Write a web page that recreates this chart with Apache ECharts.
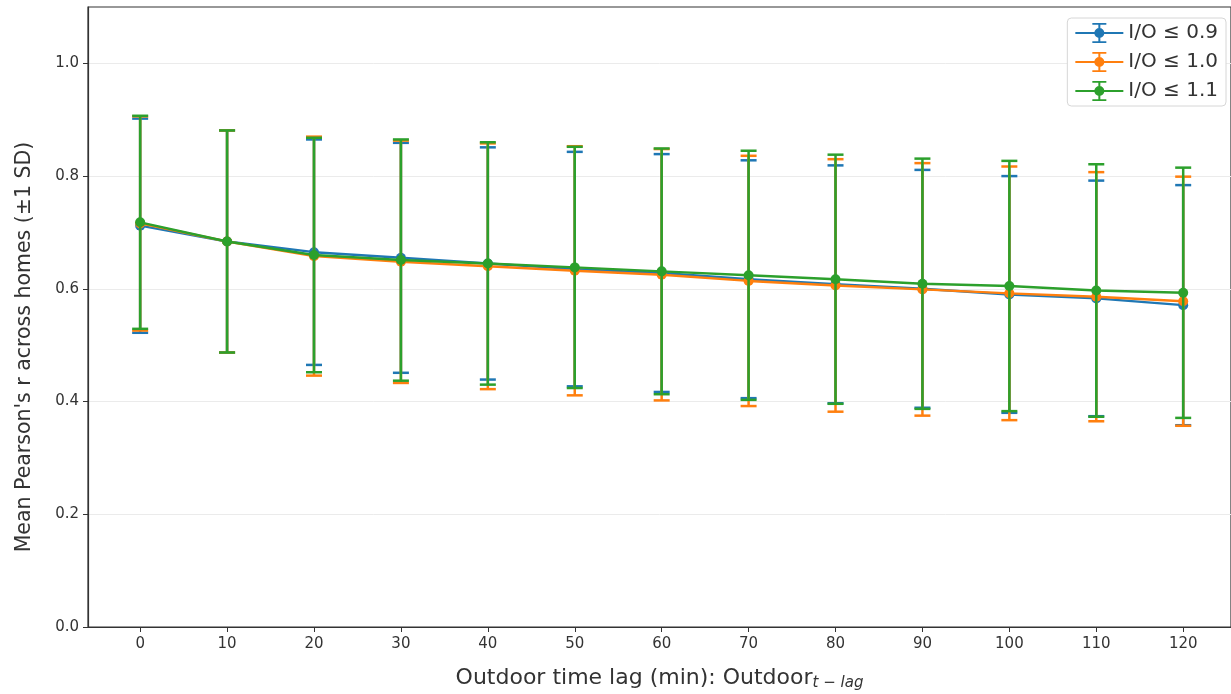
<!DOCTYPE html>
<html>
<head>
<meta charset="utf-8">
<script src="https://cdn.jsdelivr.net/npm/echarts@6/dist/echarts.min.js"></script>
<style>
html, body { margin: 0; padding: 0; background: #fff; }
#main { width: 1231px; height: 694px; }
</style>
</head>
<body>
<div id="main"></div>
<script>
// lag in minutes
var lags = [0, 10, 20, 30, 40, 50, 60, 70, 80, 90, 100, 110, 120];
var seriesNames = ['I/O ≤ 0.9', 'I/O ≤ 1.0', 'I/O ≤ 1.1'];
var colors = ['#1f77b4', '#ff7f0e', '#2ca02c'];

// mean r
var mean09 = [0.712, 0.684, 0.665, 0.655, 0.645, 0.635, 0.628, 0.617, 0.608, 0.600, 0.590, 0.583, 0.571];
var mean10 = [0.716, 0.684, 0.658, 0.648, 0.640, 0.632, 0.625, 0.614, 0.606, 0.599, 0.592, 0.586, 0.578];
var mean11 = [0.718, 0.684, 0.660, 0.651, 0.645, 0.638, 0.631, 0.624, 0.617, 0.609, 0.605, 0.597, 0.593];

// +/- 1 SD
var sd09 = [0.190, 0.197, 0.200, 0.204, 0.206, 0.208, 0.211, 0.211, 0.211, 0.211, 0.210, 0.209, 0.213];
var sd10 = [0.190, 0.197, 0.212, 0.215, 0.218, 0.221, 0.223, 0.222, 0.224, 0.224, 0.225, 0.221, 0.221];
var sd11 = [0.189, 0.197, 0.208, 0.214, 0.215, 0.214, 0.218, 0.221, 0.221, 0.222, 0.222, 0.224, 0.222];

var yTicks = [0, 0.2, 0.4, 0.6, 0.8, 1.0];

var means = [mean09, mean10, mean11];
var sds = [sd09, sd10, sd11];

// legend icon: line + error bar + dot (48 x 22 box)
var legendIcon = 'path://M0,10 H48 V12 H0 Z M23,2 H25 V20 H23 Z M17,1 H31 V2.8 H17 Z M17,19.2 H31 V21 H17 Z M29,11 A5,5 0 1,1 19,11 A5,5 0 1,1 29,11 Z';

function errItem(params, api) {
    var top = api.coord([api.value(0), api.value(2)]);
    var bot = api.coord([api.value(0), api.value(1)]);
    var half = 8;
    var style = { stroke: api.visual('color'), lineWidth: 2.5 };
    return {
        type: 'group',
        children: [
            { type: 'line', shape: { x1: top[0], y1: top[1], x2: bot[0], y2: bot[1] }, style: style },
            { type: 'line', shape: { x1: top[0] - half, y1: top[1], x2: top[0] + half, y2: top[1] }, style: style },
            { type: 'line', shape: { x1: bot[0] - half, y1: bot[1], x2: bot[0] + half, y2: bot[1] }, style: style }
        ]
    };
}

var series = [];
for (var s = 0; s < 3; s++) {
    var errData = [];
    var lineData = [];
    for (var i = 0; i < lags.length; i++) {
        errData.push([lags[i], means[s][i] - sds[s][i], means[s][i] + sds[s][i]]);
        lineData.push([lags[i], means[s][i]]);
    }
    series.push({
        name: seriesNames[s],
        type: 'custom',
        renderItem: errItem,
        itemStyle: { color: colors[s] },
        encode: { x: 0, y: [1, 2] },
        data: errData,
        z: 2 + s * 2
    });
    series.push({
        name: seriesNames[s],
        type: 'line',
        data: lineData,
        symbol: 'circle',
        symbolSize: 10,
        showSymbol: true,
        lineStyle: { width: 2.4, color: colors[s] },
        itemStyle: { color: colors[s] },
        z: 3 + s * 2
    });
}

var myChart = echarts.init(document.getElementById('main'));
var option = {
    animation: false,
    color: colors,
    textStyle: { fontFamily: 'DejaVu Sans' },
    grid: {
        left: 88, right: 0, top: 7, bottom: 67,
        outerBoundsMode: 'none',
        show: true, borderColor: '#333', borderWidth: 1.2
    },
    legend: {
        orient: 'vertical',
        right: 5, top: 18,
        data: seriesNames.map(function (n) { return { name: n, icon: legendIcon }; }),
        itemWidth: 48, itemHeight: 22, itemGap: 9,
        backgroundColor: '#fff',
        borderColor: '#d6d6d6', borderWidth: 1, borderRadius: 4,
        padding: [5, 8, 5, 8],
        textStyle: { fontSize: 20, color: '#333' }
    },
    xAxis: {
        type: 'value',
        min: -6, max: 125.5,
        name: 'Outdoor time lag (min): Outdoor{sub|t − lag}',
        nameLocation: 'middle',
        nameGap: 38,
        nameTextStyle: {
            fontSize: 22, color: '#333',
            rich: { sub: { fontSize: 15, fontStyle: 'italic', color: '#333', padding: [11, 0, 0, 0] } }
        },
        axisLine: { show: true, onZero: false, lineStyle: { color: '#333', width: 1.2 } },
        axisTick: { show: true, length: 5, customValues: lags, lineStyle: { color: '#333' } },
        axisLabel: { customValues: lags, fontSize: 15, color: '#333', margin: 10 },
        splitLine: { show: false }
    },
    yAxis: {
        type: 'value',
        min: 0, max: 1.1,
        name: "Mean Pearson's r across homes (±1 SD)",
        nameLocation: 'middle',
        nameGap: 53,
        nameTextStyle: { fontSize: 20.5, color: '#333', padding: [0, 60, 0, 0] },
        axisLine: { show: true, onZero: false, lineStyle: { color: '#333', width: 1.2 } },
        axisTick: { show: true, length: 5, customValues: yTicks, lineStyle: { color: '#333' } },
        axisLabel: {
            customValues: yTicks, fontSize: 15, color: '#333', margin: 9,
            formatter: function (v) { return v.toFixed(1); }
        },
        splitLine: { show: true, lineStyle: { color: '#ebebeb', width: 1 } }
    },
    series: series
};
option && myChart.setOption(option);
</script>
</body>
</html>
